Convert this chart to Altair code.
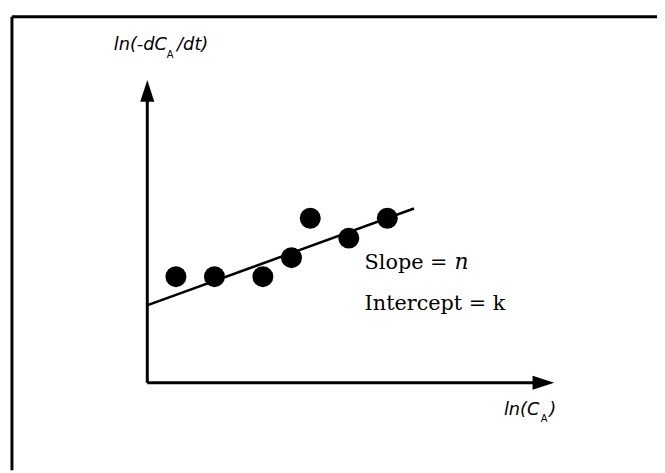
import altair as alt
import pandas as pd

# Data points (x = ln(C_A), y = ln(-dC_A/dt)), arbitrary units
pt_x = [0.75, 1.725, 2.95, 3.675, 4.15, 5.125, 6.1]
pt_y = [3.53, 3.53, 3.53, 4.17, 5.5, 4.83, 5.5]

# fitted line endpoints
line_x = [0.0, 6.775]
line_y = [2.55, 5.83]

# axis arrows
x_axis_end = 9.85
y_axis_end = 9.6
x_head = [10.05]
y_head = [9.8]

XD = [-3.5, 12.925]
YD = [-3.0, 12.5]

xs = alt.Scale(domain=XD, nice=False, zero=False)
ys = alt.Scale(domain=YD, nice=False, zero=False)
X = lambda f: alt.X(f, type="quantitative", scale=xs, axis=None)
Y = lambda f: alt.Y(f, type="quantitative", scale=ys, axis=None)

pts = pd.DataFrame({"x": pt_x, "y": pt_y})
ln = pd.DataFrame({"x": line_x, "y": line_y})

points = alt.Chart(pts).mark_circle(size=450, color="black", opacity=1).encode(x=X("x"), y=Y("y"))
fit = alt.Chart(ln).mark_line(color="black", strokeWidth=2.5).encode(x=X("x"), y=Y("y"))

axes_df = pd.DataFrame({"x": [0.025, 0.025], "y": [-0.05, -0.05], "x2": [x_axis_end, 0.025], "y2": [-0.05, y_axis_end]})
axes = alt.Chart(axes_df).mark_rule(color="black", strokeWidth=3).encode(
    x=X("x"), y=Y("y"), x2="x2", y2="y2")

frame_df = pd.DataFrame({"x": [-3.4, -3.4], "y": [12.3, 12.3], "x2": [-3.4, 12.925], "y2": [-3.0, 12.3]})
frame = alt.Chart(frame_df).mark_rule(color="black", strokeWidth=3).encode(
    x=X("x"), y=Y("y"), x2="x2", y2="y2")

up = alt.Chart(pd.DataFrame({"x": [0.025], "y": y_head})).mark_point(
    shape="M-0.65,1 L0,-1 L0.65,1 Z", size=480, filled=True, color="black", opacity=1
).encode(x=X("x"), y=Y("y"))
right = alt.Chart(pd.DataFrame({"x": x_head, "y": [-0.05]})).mark_point(
    shape="M-1,-0.65 L1,0 L-1,0.65 Z", size=480, filled=True, color="black", opacity=1
).encode(x=X("x"), y=Y("y"))

def txt(df, **kw):
    return alt.Chart(pd.DataFrame(df)).mark_text(align="left", baseline="alphabetic", color="black", **kw).encode(
        x=X("x"), y=Y("y"), text="t:N")

serif_txt = txt({"x": [5.525, 5.525], "y": [3.8, 2.4], "t": ["Slope = ", "Intercept = k"]},
                font="DejaVu Serif", fontSize=21)
n_txt = txt({"x": [7.8], "y": [3.8], "t": ["n"]}, font="DejaVu Serif", fontSize=22, fontStyle="italic")

lab_main = txt({"x": [-0.825, 0.78, 9.05, 10.2], "y": [11.17, 11.17, -1.133, -1.133],
                "t": ["ln(-dC", "/dt)", "ln(C", ")"]},
               font="DejaVu Sans", fontSize=18, fontStyle="italic")
lab_sub = txt({"x": [0.52, 9.98], "y": [10.9, -1.367], "t": ["A", "A"]},
              font="DejaVu Sans", fontSize=10)

chart = alt.layer(frame, fit, points, axes, up, right, serif_txt, n_txt, lab_main, lab_sub).properties(
    width=657, height=465, padding=0, autosize=alt.AutoSizeParams(type="none"),
    background="white"
).configure_view(stroke=None)

chart.save("out.html", embed_options={"renderer": "svg", "actions": False})
